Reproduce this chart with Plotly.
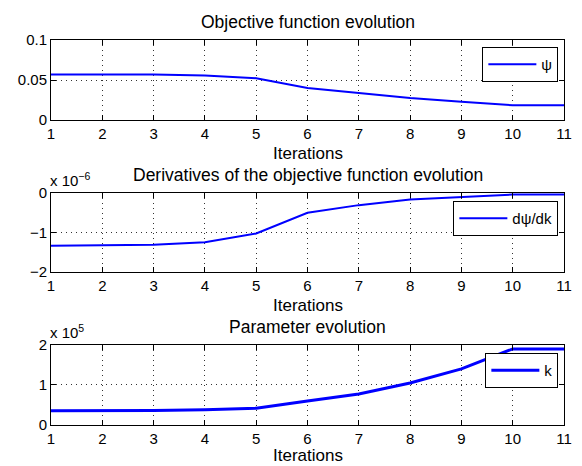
import plotly.graph_objects as go

iterations = [1, 2, 3, 4, 5, 6, 7, 8, 9, 10, 11]
psi = [0.057, 0.057, 0.0568, 0.0557, 0.0523, 0.040, 0.0333, 0.0275, 0.0228, 0.0186, 0.0186]
dpsi_dk = [-1.336e-6, -1.33e-6, -1.31e-6, -1.244e-6, -1.025e-6, -0.504e-6, -0.31e-6,
           -0.168e-6, -0.10e-6, -0.042e-6, -0.04e-6]
k_vals = [0.353e5, 0.353e5, 0.36e5, 0.378e5, 0.42e5, 0.597e5, 0.773e5, 1.05e5, 1.40e5, 1.90e5, 1.90e5]

titles = ["Objective function evolution", "Derivatives of the objective function evolution",
          "Parameter evolution"]
names = ["ψ", "dψ/dk", "k"]
y_tickvals = [[0, 0.05, 0.1], [-2e-6, -1e-6, 0], [0, 1e5, 2e5]]
y_ticktext = [["0", "0.05", "0.1"], ["−2", "−1", "0"], ["0", "1", "2"]]
y_ranges = [[0, 0.1], [-2e-6, 0], [0, 2e5]]
exponents = [None, "x 10<sup>−6</sup>", "x 10<sup>5</sup>"]

domains = [[0.792, 1.0], [0.397, 0.603], [0.0, 0.208]]
widths = [2, 2, 3]
series = [psi, dpsi_dk, k_vals]
legend_y = [0.982, 0.582, 0.187]
xlabel_shift = [-23, -23, -20]

fig = go.Figure()
fam = "Liberation Sans, Arial, sans-serif"
tick_font = dict(family=fam, size=15, color="black")
label_font = dict(family=fam, size=17, color="black")
title_font = dict(family=fam, size=17.5, color="black")

annotations = []
for i in range(3):
    ax = "" if i == 0 else str(i + 1)
    leg = "legend" if i == 0 else f"legend{i + 1}"
    fig.add_trace(go.Scatter(x=iterations, y=series[i], mode="lines", name=names[i],
                             line=dict(color="#0000ff", width=widths[i]),
                             xaxis="x" + ax, yaxis="y" + ax, legend=leg))
    axis_common = dict(showline=True, linecolor="black", linewidth=1, mirror="allticks",
                       ticks="inside", ticklen=5, tickcolor="black",
                       showgrid=True, gridcolor="#333333", griddash="1px,4px", gridwidth=1,
                       zeroline=False, tickfont=tick_font)
    fig.layout["xaxis" + ax] = dict(axis_common, domain=[0, 1], range=[1, 11],
                                    tickvals=iterations, anchor="y" + ax)
    fig.layout["yaxis" + ax] = dict(axis_common, domain=domains[i], range=y_ranges[i],
                                    tickvals=y_tickvals[i], ticktext=y_ticktext[i],
                                    anchor="x" + ax)
    top = domains[i][1]
    bot = domains[i][0]
    fig.layout[leg] = dict(x=0.989, xanchor="right", y=legend_y[i], yanchor="top",
                           bordercolor="black", borderwidth=1, bgcolor="white",
                           font=tick_font, tracegroupgap=0, itemwidth=48)
    annotations.append(dict(text=titles[i], x=0.5, xref="paper", y=top, yref="paper",
                            xanchor="center", yanchor="bottom", yshift=6,
                            showarrow=False, font=title_font))
    annotations.append(dict(text="Iterations", x=0.5, xref="paper", y=bot, yref="paper",
                            xanchor="center", yanchor="top", yshift=xlabel_shift[i],
                            borderpad=0, showarrow=False, font=label_font))
    if exponents[i]:
        annotations.append(dict(text=exponents[i], x=0, xref="paper", y=top, yref="paper",
                                xanchor="left", yanchor="bottom", yshift=2, xshift=-3,
                                showarrow=False, font=tick_font))

fig.update_layout(width=574, height=458, margin=dict(l=36, r=10, t=32, b=41),
                  paper_bgcolor="white", plot_bgcolor="white", showlegend=True,
                  annotations=annotations, font=tick_font)

fig.write_html("out.html")
